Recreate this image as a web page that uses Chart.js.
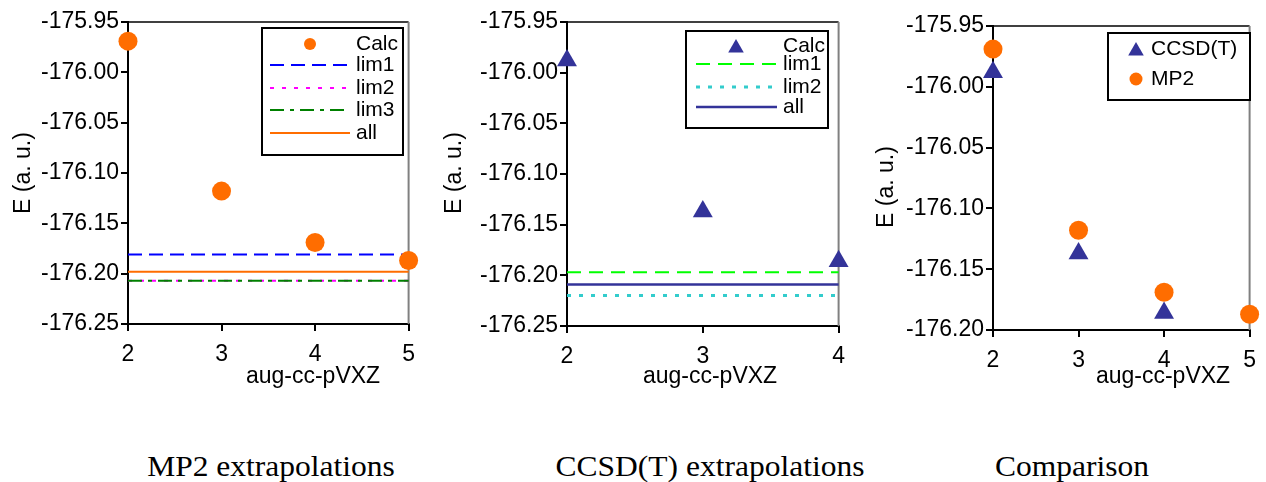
<!DOCTYPE html>
<html>
<head>
<meta charset="utf-8">
<script src="https://cdn.jsdelivr.net/npm/chart.js@4"></script>
<style>
body { margin: 0; background: #fff; }
#wrap { position: relative; width: 1266px; height: 482px; overflow: hidden; background: #fff; }
.box { position: absolute; top: 0; height: 400px; }
.cap { position: absolute; top: 451px; width: 400px; text-align: center; color: #000;
       font-family: "Liberation Serif", "Times New Roman", serif; font-size: 30px; line-height: 30px;
       transform: scaleX(1.05); }
</style>
</head>
<body>
<div id="wrap">
  <div class="box" style="left:0;width:425px"><canvas id="mp2"></canvas></div>
  <div class="box" style="left:439px;width:416px"><canvas id="ccsd"></canvas></div>
  <div class="box" style="left:865px;width:401px"><canvas id="cmp"></canvas></div>
  <div class="cap" style="left:71px">MP2 extrapolations</div>
  <div class="cap" style="left:510px">CCSD(T) extrapolations</div>
  <div class="cap" style="left:872px">Comparison</div>
</div>
<script>
// basis set cardinal numbers
const mp2Basis = [2, 3, 4, 5];
const ccBasis = [2, 3, 4];

// calculated energies (a.u.)
const mp2Calc = [-175.969, -176.118, -176.169, -176.187];
const ccCalc = [-175.988, -176.137, -176.186];

// extrapolated limits
const mp2LimLabels = ['lim1', 'lim2', 'lim3', 'all'];
const mp2LimValues = [-176.181, -176.207, -176.207, -176.198];
const ccLimLabels = ['lim1', 'lim2', 'all'];
const ccLimValues = [-176.197, -176.220, -176.209];

// tick values
const yTicksExtrap = [-175.95, -176.00, -176.05, -176.10, -176.15, -176.20, -176.25];
const yTicksCmp = [-175.95, -176.00, -176.05, -176.10, -176.15, -176.20];

const ORANGE = '#ff6d00';
const NAVY = '#333399';
const SANS = '"Liberation Sans", Arial, sans-serif';

function pts(xs, ys) {
    return xs.map((x, i) => ({ x: x, y: ys[i] }));
}

function flat(xs, v) {
    return [{ x: xs[0], y: v }, { x: xs[xs.length - 1], y: v }];
}

function drawMarker(ctx, style, x, y, r, color) {
    ctx.fillStyle = color;
    ctx.beginPath();
    if (style === 'triangle') {
        ctx.moveTo(x, y - r);
        ctx.lineTo(x + r * Math.sin(Math.PI / 3), y + r / 2);
        ctx.lineTo(x - r * Math.sin(Math.PI / 3), y + r / 2);
        ctx.closePath();
    } else {
        ctx.arc(x, y, r, 0, Math.PI * 2);
    }
    ctx.fill();
}

const decor = {
    id: 'decor',
    beforeDatasetsDraw(chart) {
        const { ctx, chartArea: a } = chart;
        ctx.save();
        ctx.strokeStyle = '#000';
        ctx.lineWidth = 1.5;
        ctx.beginPath();
        ctx.moveTo(a.left, a.top);
        ctx.lineTo(a.right, a.top);
        ctx.stroke();
        ctx.strokeStyle = '#808080';
        ctx.lineWidth = 2;
        ctx.beginPath();
        ctx.moveTo(a.right, a.top);
        ctx.lineTo(a.right, a.bottom);
        ctx.stroke();
        ctx.restore();
    },
    afterDraw(chart, args, o) {
        const ctx = chart.ctx;
        ctx.save();
        ctx.fillStyle = '#000';
        ctx.font = '23px ' + SANS;
        ctx.textAlign = 'center';
        ctx.textBaseline = 'middle';
        ctx.fillText(o.xTitle, o.xTitleAt[0], o.xTitleAt[1]);
        ctx.save();
        ctx.translate(o.yTitleAt[0], o.yTitleAt[1]);
        ctx.rotate(-Math.PI / 2);
        ctx.fillText(o.yTitle, 0, 0);
        ctx.restore();

        // legend box
        const L = o.legend;
        const [l, t, r, b] = L.box;
        ctx.fillStyle = '#fff';
        ctx.fillRect(l, t, r - l, b - t);
        ctx.strokeStyle = '#000';
        ctx.lineWidth = 2;
        ctx.strokeRect(l, t, r - l, b - t);
        chart.data.datasets.forEach((ds, i) => {
            const y = L.rows[i];
            if (ds.showLine) {
                ctx.strokeStyle = ds.borderColor;
                ctx.lineWidth = ds.borderWidth;
                ctx.setLineDash(ds.borderDash || []);
                ctx.beginPath();
                ctx.moveTo(L.line[0], y);
                ctx.lineTo(L.line[1], y);
                ctx.stroke();
                ctx.setLineDash([]);
            } else {
                drawMarker(ctx, ds.pointStyle, L.marker, y + (ds.pointStyle === 'triangle' ? 2 : 0), ds.legendRadius, ds.backgroundColor);
            }
            ctx.fillStyle = '#000';
            ctx.font = '21px ' + SANS;
            ctx.textAlign = 'left';
            ctx.textBaseline = 'middle';
            ctx.fillText(ds.label, L.text, y);
        });
        ctx.restore();
    }
};

function makeChart(id, datasets, cfg) {
    return new Chart(document.getElementById(id), {
        type: 'scatter',
        data: { datasets: datasets },
        options: {
            responsive: true,
            maintainAspectRatio: false,
            animation: false,
            layout: { padding: { top: cfg.padTop, right: cfg.padRight, left: 0, bottom: 0 } },
            plugins: {
                legend: { display: false },
                tooltip: { enabled: false },
                decor: cfg.decor
            },
            scales: {
                x: {
                    type: 'linear',
                    min: cfg.xTicks[0],
                    max: cfg.xTicks[cfg.xTicks.length - 1],
                    afterFit: s => { s.height = cfg.xHeight; },
                    afterBuildTicks: s => { s.ticks = cfg.xTicks.map(v => ({ value: v })); },
                    ticks: { color: '#000', font: { family: SANS, size: 23 }, padding: 10, maxRotation: 0 },
                    grid: { drawOnChartArea: false, tickLength: 7, color: '#000', lineWidth: 2 },
                    border: { color: '#000', width: 2 }
                },
                y: {
                    min: cfg.yTicks[cfg.yTicks.length - 1],
                    max: cfg.yTicks[0],
                    afterFit: s => { s.width = 128; },
                    afterBuildTicks: s => { s.ticks = cfg.yTicks.map(v => ({ value: v })); },
                    ticks: { color: '#000', font: { family: SANS, size: 23 }, padding: 2,
                             callback: v => v.toFixed(2) },
                    grid: { drawOnChartArea: false, tickLength: 7, color: '#000', lineWidth: 2 },
                    border: { color: '#000', width: 2 }
                }
            }
        },
        plugins: [decor]
    });
}

function limitSet(label, xs, v, color, dash, width, order) {
    return {
        label: label, data: flat(xs, v), showLine: true, pointRadius: 0,
        borderColor: color, borderWidth: width, borderDash: dash, borderCapStyle: 'butt',
        clip: false, order: order
    };
}

// MP2 extrapolations
const mp2Styles = [
    { color: '#0000ff', dash: [14, 7], width: 2, order: 1 },
    { color: '#ff00ff', dash: [4, 8], width: 2, order: 3 },
    { color: '#008000', dash: [14, 6, 4, 6], width: 2, order: 2 },
    { color: ORANGE, dash: [], width: 2, order: 4 }
];
makeChart('mp2', [
    { label: 'Calc', data: pts(mp2Basis, mp2Calc), pointStyle: 'circle', pointRadius: 9.5,
      backgroundColor: ORANGE, borderColor: ORANGE, pointBorderWidth: 0, legendRadius: 6, clip: false, order: 0 },
    ...mp2LimLabels.map((lab, i) => limitSet(lab, mp2Basis, mp2LimValues[i],
        mp2Styles[i].color, mp2Styles[i].dash, mp2Styles[i].width, mp2Styles[i].order))
], {
    padTop: 22, padRight: 15, xHeight: 76, xTicks: mp2Basis, yTicks: yTicksExtrap,
    decor: {
        xTitle: 'aug-cc-pVXZ', xTitleAt: [313, 377],
        yTitle: 'E (a. u.)', yTitleAt: [24, 173],
        legend: { box: [262, 28, 403, 155], rows: [44, 65, 88, 110, 133], line: [270, 350], marker: 310, text: 356 }
    }
});

// CCSD(T) extrapolations
const ccStyles = [
    { color: '#00ff00', dash: [14, 8], width: 2 },
    { color: '#33cccc', dash: [4, 8], width: 3 },
    { color: NAVY, dash: [], width: 2.5 }
];
makeChart('ccsd', [
    { label: 'Calc', data: pts(ccBasis, ccCalc), pointStyle: 'triangle', pointRadius: 11.5,
      backgroundColor: NAVY, borderColor: NAVY, pointBorderWidth: 0, legendRadius: 9, clip: false },
    ...ccLimLabels.map((lab, i) => limitSet(lab, ccBasis, ccLimValues[i],
        ccStyles[i].color, ccStyles[i].dash, ccStyles[i].width, i + 1))
], {
    padTop: 22, padRight: 15, xHeight: 74, xTicks: ccBasis, yTicks: yTicksExtrap,
    decor: {
        xTitle: 'aug-cc-pVXZ', xTitleAt: [271, 377],
        yTitle: 'E (a. u.)', yTitleAt: [16, 173],
        legend: { box: [247, 31, 389, 128], rows: [46, 64, 87, 107], line: [257, 338], marker: 297, text: 344 }
    }
});

// Comparison
makeChart('cmp', [
    { label: 'CCSD(T)', data: pts(ccBasis, ccCalc), pointStyle: 'triangle', pointRadius: 11.5,
      backgroundColor: NAVY, borderColor: NAVY, pointBorderWidth: 0, legendRadius: 9, clip: false },
    { label: 'MP2', data: pts(mp2Basis, mp2Calc), pointStyle: 'circle', pointRadius: 9.5,
      backgroundColor: ORANGE, borderColor: ORANGE, pointBorderWidth: 0, legendRadius: 6.5, clip: false }
], {
    padTop: 26, padRight: 8, xHeight: 70, xTicks: mp2Basis, yTicks: yTicksCmp,
    decor: {
        xTitle: 'aug-cc-pVXZ', xTitleAt: [298, 377],
        yTitle: 'E (a. u.)', yTitleAt: [22, 187],
        legend: { box: [243, 33, 385, 100], rows: [49, 79], line: [0, 0], marker: 271, text: 286 }
    }
});
</script>
</body>
</html>
